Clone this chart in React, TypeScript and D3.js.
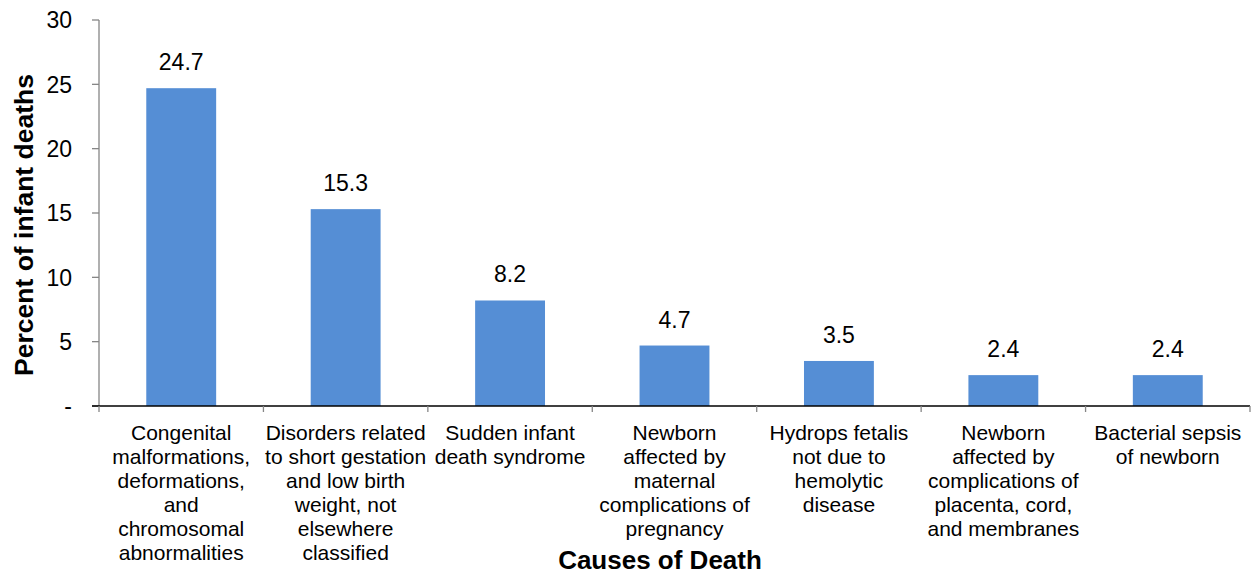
import React from "react";
import * as d3 from "d3";

const categories: string[][] = [
  ["Congenital", "malformations,", "deformations,", "and", "chromosomal", "abnormalities"],
  ["Disorders related", "to short gestation", "and low birth", "weight, not", "elsewhere", "classified"],
  ["Sudden infant", "death syndrome"],
  ["Newborn", "affected by", "maternal", "complications of", "pregnancy"],
  ["Hydrops fetalis", "not due to", "hemolytic", "disease"],
  ["Newborn", "affected by", "complications of", "placenta, cord,", "and membranes"],
  ["Bacterial sepsis", "of newborn"],
];
const values: number[] = [24.7, 15.3, 8.2, 4.7, 3.5, 2.4, 2.4];
const yTicks: number[] = [0, 5, 10, 15, 20, 25, 30];
const yTickLabels: string[] = ["-", "5", "10", "15", "20", "25", "30"];

const W = 1252;
const H = 575;
const margin = { left: 99, right: 2, top: 20, bottom: 169 };
const font = "'Liberation Sans', Arial, sans-serif";

export default function App() {
  const x = d3
    .scaleBand<number>()
    .domain(d3.range(values.length))
    .range([margin.left, W - margin.right])
    .paddingInner(0.575)
    .paddingOuter(0.2875);
  const step = (W - margin.right - margin.left) / values.length;
  const y = d3.scaleLinear().domain([0, 30]).range([H - margin.bottom, margin.top]);
  const y0 = y(0);

  return (
    <svg
      width={W}
      height={H}
      style={{ position: "absolute", left: 0, top: 0, background: "#fff" }}
      fontFamily={font}
    >
      {values.map((v, i) => (
        <g key={i}>
          <rect x={x(i)} y={y(v)} width={x.bandwidth()} height={y0 - y(v)} fill="#558ED5" />
          <text
            x={(x(i) as number) + x.bandwidth() / 2}
            y={y(v) - 18}
            textAnchor="middle"
            fontSize={23}
            fill="#000"
          >
            {v.toFixed(1)}
          </text>
        </g>
      ))}
      {/* y axis */}
      <line x1={margin.left} x2={margin.left} y1={margin.top} y2={y0} stroke="#868686" strokeWidth={1.3} />
      {yTicks.map((t, i) => (
        <g key={t}>
          <line x1={margin.left - 7} x2={margin.left} y1={y(t)} y2={y(t)} stroke="#868686" strokeWidth={1.3} />
          <text x={72} y={y(t)} dy="0.36em" textAnchor="end" fontSize={23} fill="#000">
            {yTickLabels[i]}
          </text>
        </g>
      ))}
      {/* x axis */}
      <line x1={margin.left - 7} x2={W - margin.right} y1={y0} y2={y0} stroke="#000" strokeWidth={1.3} />
      {d3.range(values.length + 1).map((i) => (
        <line
          key={i}
          x1={margin.left + i * step}
          x2={margin.left + i * step}
          y1={y0}
          y2={y0 + 6}
          stroke="#868686"
          strokeWidth={1.3}
        />
      ))}
      {categories.map((lines, i) => (
        <text
          key={i}
          x={(x(i) as number) + x.bandwidth() / 2}
          y={440}
          textAnchor="middle"
          fontSize={21}
          fill="#000"
        >
          {lines.map((l, j) => (
            <tspan key={j} x={(x(i) as number) + x.bandwidth() / 2} dy={j === 0 ? 0 : 24}>
              {l}
            </tspan>
          ))}
        </text>
      ))}
      <text x={660} y={569} textAnchor="middle" fontSize={26} fontWeight="bold" fill="#000">
        Causes of Death
      </text>
      <text
        transform={`translate(33, 225) rotate(-90)`}
        textAnchor="middle"
        fontSize={26.5}
        fontWeight="bold"
        fill="#000"
      >
        Percent of infant deaths
      </text>
    </svg>
  );
}
